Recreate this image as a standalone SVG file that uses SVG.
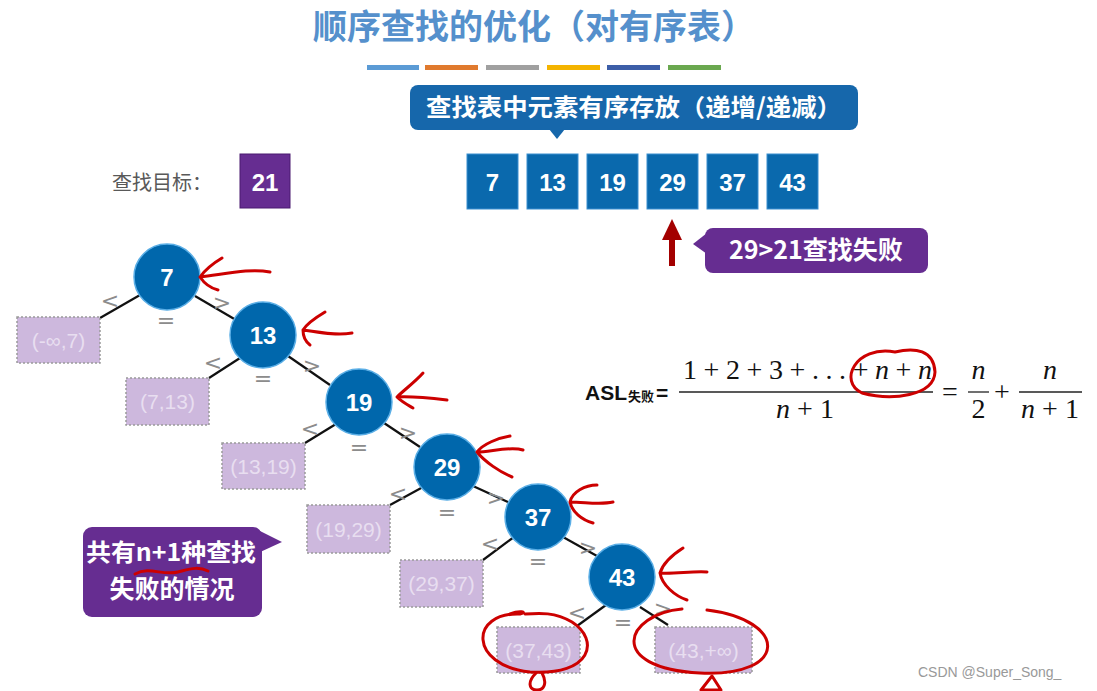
<svg xmlns="http://www.w3.org/2000/svg" width="1097" height="691" viewBox="0 0 1097 691">
<style>
.cjk{font-family:"Noto Sans CJK SC","Liberation Sans",sans-serif}
.num{font-family:"Liberation Sans","Noto Sans CJK SC",sans-serif;font-weight:bold;fill:#fff;text-anchor:middle}
.cell{fill:#0a69ad;stroke:#3a8fd0;stroke-width:1}
.node{fill:#0067ac;stroke:#5aaee6;stroke-width:1.5}
.leaf{fill:#cdb8dd;stroke:#9a9a9a;stroke-width:1.5;stroke-dasharray:2 2}
.leaft{font-family:"Liberation Sans",sans-serif;font-size:21px;fill:#e8def0;text-anchor:middle}
.edge{stroke:#111;stroke-width:2.2}
.op{font-family:"DejaVu Sans","Liberation Sans",sans-serif;font-size:22px;fill:#8c8c8c;text-anchor:middle}
.red{fill:none;stroke:#cc0000;stroke-width:3;stroke-linecap:round;stroke-linejoin:round}
.serif{font-family:"Liberation Serif","DejaVu Serif",serif;font-size:28px;fill:#111}
.it{font-style:italic}
</style>
<rect width="1097" height="691" fill="#fff"/>

<g id="title">
<text x="534" y="39" class="cjk" font-size="34" font-weight="bold" fill="#5590cc" text-anchor="middle">顺序查找的优化（对有序表）</text>
<rect x="367" y="65" width="52" height="5" fill="#5b9bd5"/>
<rect x="425" y="65" width="53" height="5" fill="#e07a2e"/>
<rect x="486" y="65" width="53" height="5" fill="#a0a0a0"/>
<rect x="547" y="65" width="53" height="5" fill="#f4b400"/>
<rect x="607" y="65" width="53" height="5" fill="#3c5ea8"/>
<rect x="668" y="65" width="53" height="5" fill="#6aa84f"/>
</g>

<g id="callout-sorted">
<rect x="410" y="85" width="448" height="45" rx="8" fill="#1667ab"/>
<polygon points="549,129 565,129 557,139" fill="#1667ab"/>
<text x="634" y="116" class="cjk" font-size="24" font-weight="bold" fill="#fff" text-anchor="middle" textLength="416" lengthAdjust="spacingAndGlyphs">查找表中元素有序存放（递增/递减）</text>
</g>

<g id="target">
<text x="112" y="190" class="cjk" font-size="20" fill="#595959">查找目标：</text>
<rect x="240" y="154" width="50" height="54" fill="#662d91" stroke="#4a1a70" stroke-width="1"/>
<text x="265" y="191" class="num" font-size="24">21</text>
</g>

<g id="array">
<rect class="cell" x="467" y="154" width="51" height="55"/><text x="492.5" y="191" class="num" font-size="24">7</text>
<rect class="cell" x="527" y="154" width="51" height="55"/><text x="552.5" y="191" class="num" font-size="24">13</text>
<rect class="cell" x="587" y="154" width="51" height="55"/><text x="612.5" y="191" class="num" font-size="24">19</text>
<rect class="cell" x="647" y="154" width="51" height="55"/><text x="672.5" y="191" class="num" font-size="24">29</text>
<rect class="cell" x="707" y="154" width="51" height="55"/><text x="732.5" y="191" class="num" font-size="24">37</text>
<rect class="cell" x="767" y="154" width="51" height="55"/><text x="792.5" y="191" class="num" font-size="24">43</text>
</g>

<g id="pointer-arrow">
<rect x="669" y="237" width="6" height="29" fill="#a30000"/>
<polygon points="672,219 682,240 662,240" fill="#a30000"/>
</g>

<g id="callout-fail">
<rect x="705" y="228" width="223" height="45" rx="8" fill="#662d91"/>
<polygon points="707,233 693,244 707,254" fill="#662d91"/>
<text x="816" y="259" class="cjk" font-size="25" font-weight="bold" fill="#fff" text-anchor="middle">29&gt;21查找失败</text>
</g>

<g id="connectors">
<line class="edge" x1="140" y1="295" x2="100" y2="318"/>
<line class="edge" x1="195" y1="296" x2="236" y2="320"/>
<line class="edge" x1="240" y1="358" x2="209" y2="378"/>
<line class="edge" x1="288" y1="356" x2="330" y2="385"/>
<line class="edge" x1="336" y1="424" x2="305" y2="443"/>
<line class="edge" x1="384" y1="423" x2="420" y2="447"/>
<line class="edge" x1="423" y1="487" x2="390" y2="505"/>
<line class="edge" x1="473" y1="486" x2="510" y2="503"/>
<line class="edge" x1="514" y1="537" x2="483" y2="560"/>
<line class="edge" x1="563" y1="537" x2="597" y2="556"/>
<line class="edge" x1="606" y1="605" x2="577" y2="626"/>
<line class="edge" x1="640" y1="607" x2="668" y2="625"/>
<text class="op" x="110" y="308">&lt;</text><text class="op" x="222" y="310">&gt;</text><text class="op" x="166" y="328">=</text>
<text class="op" x="213" y="370">&lt;</text><text class="op" x="312" y="373">&gt;</text><text class="op" x="263" y="386">=</text>
<text class="op" x="310" y="436">&lt;</text><text class="op" x="408" y="440">&gt;</text><text class="op" x="359" y="455">=</text>
<text class="op" x="398" y="501">&lt;</text><text class="op" x="496" y="505">&gt;</text><text class="op" x="447" y="520">=</text>
<text class="op" x="490" y="551">&lt;</text><text class="op" x="588" y="555">&gt;</text><text class="op" x="538" y="569">=</text>
<text class="op" x="577" y="620">&lt;</text><text class="op" x="663" y="616">&gt;</text><text class="op" x="623" y="630">=</text>
</g>

<g id="node-7"><circle class="node" cx="167" cy="277" r="33"/><text x="167" y="286" class="num" font-size="24">7</text></g>
<g id="node-13"><circle class="node" cx="263" cy="335" r="33"/><text x="263" y="344" class="num" font-size="24">13</text></g>
<g id="node-19"><circle class="node" cx="359" cy="402" r="33"/><text x="359" y="411" class="num" font-size="24">19</text></g>
<g id="node-29"><circle class="node" cx="447" cy="467" r="33"/><text x="447" y="476" class="num" font-size="24">29</text></g>
<g id="node-37"><circle class="node" cx="538" cy="517" r="33"/><text x="538" y="526" class="num" font-size="24">37</text></g>
<g id="node-43"><circle class="node" cx="622" cy="577" r="33"/><text x="622" y="586" class="num" font-size="24">43</text></g>

<g id="leaf-1"><rect class="leaf" x="17" y="317" width="83" height="46"/><text class="leaft" x="58.5" y="348">(-∞,7)</text></g>
<g id="leaf-2"><rect class="leaf" x="126" y="378" width="83" height="47"/><text class="leaft" x="167.5" y="409">(7,13)</text></g>
<g id="leaf-3"><rect class="leaf" x="222" y="443" width="83" height="46"/><text class="leaft" x="263.5" y="474">(13,19)</text></g>
<g id="leaf-4"><rect class="leaf" x="307" y="505" width="83" height="48"/><text class="leaft" x="348.5" y="537">(19,29)</text></g>
<g id="leaf-5"><rect class="leaf" x="400" y="560" width="83" height="47"/><text class="leaft" x="441.5" y="591">(29,37)</text></g>
<g id="leaf-6"><rect class="leaf" x="497" y="627" width="83" height="46"/><text class="leaft" x="538.5" y="658">(37,43)</text></g>
<g id="leaf-7"><rect class="leaf" x="655" y="627" width="97" height="46"/><text class="leaft" x="703.5" y="658">(43,+∞)</text></g>

<g id="callout-count">
<rect x="83" y="527" width="179" height="90" rx="9" fill="#662d91"/>
<polygon points="258,530 282,542 258,553" fill="#662d91"/>
<text x="171" y="561" class="cjk" font-size="24" font-weight="bold" fill="#fff" text-anchor="middle" textLength="170" lengthAdjust="spacingAndGlyphs">共有n+1种查找</text>
<text x="172" y="598" class="cjk" font-size="25" font-weight="bold" fill="#fff" text-anchor="middle">失败的情况</text>
</g>

<g id="formula">
<text x="585" y="400" font-family="Liberation Sans,sans-serif" font-size="21" font-weight="bold" fill="#111">ASL</text>
<text x="628" y="401" class="cjk" font-size="13" font-weight="bold" fill="#111">失败</text>
<text x="656" y="400" font-family="Liberation Sans,sans-serif" font-size="21" font-weight="bold" fill="#111">=</text>
<line x1="679" y1="392" x2="933" y2="392" stroke="#222" stroke-width="1.3"/>
<text x="683" y="379" class="serif" textLength="249" lengthAdjust="spacing">1 + 2 + 3 + . . . + <tspan class="it">n</tspan> + <tspan class="it">n</tspan></text>
<text x="805" y="418" class="serif" text-anchor="middle"><tspan class="it">n</tspan> + 1</text>
<text x="950" y="401" class="serif" text-anchor="middle">=</text>
<line x1="968" y1="392" x2="989" y2="392" stroke="#222" stroke-width="1.3"/>
<text x="978.5" y="379" class="serif it" text-anchor="middle">n</text>
<text x="978.5" y="418" class="serif" text-anchor="middle">2</text>
<text x="1002" y="401" class="serif" text-anchor="middle">+</text>
<line x1="1019" y1="392" x2="1082" y2="392" stroke="#222" stroke-width="1.3"/>
<text x="1050" y="379" class="serif it" text-anchor="middle">n</text>
<text x="1050" y="418" class="serif" text-anchor="middle"><tspan class="it">n</tspan> + 1</text>
</g>

<g id="annotations">
<path class="red" d="M270 272 C250 268 225 274 200 277 M222 258 C212 264 205 270 200 277 C204 283 210 288 218 290"/>
<path class="red" d="M352 333 C335 336 318 332 303 330 M325 312 C315 318 306 325 303 330 C303 337 306 342 310 345"/>
<path class="red" d="M447 400 C430 398 412 396 397 397 M423 373 C415 382 404 390 397 397 C402 402 408 405 413 408"/>
<path class="red" d="M523 450 C510 446 490 452 477 452 M510 436 C498 438 483 444 477 452 C485 462 500 472 512 477"/>
<path class="red" d="M613 502 C600 505 585 502 570 502 M597 485 C585 485 572 492 570 502 C572 512 582 520 593 523"/>
<path class="red" d="M707 572 C692 571 675 574 660 573 M683 548 C672 555 663 563 660 573 C662 585 675 596 687 600"/>
<path class="red" d="M895 352 C855 345 838 382 862 393 C892 401 934 396 935 372 C934 350 915 347 895 352"/>
<path class="red" stroke-width="2" d="M135 574 C150 566 162 576 178 572 C190 569 198 566 208 571"/>
<path class="red" d="M510 614 C520 610 528 612 520 614 C470 612 468 665 530 672 C592 676 600 640 572 622 C555 612 540 613 525 614"/>
<path class="red" d="M536 673 C527 682 529 690 537 690 C545 690 547 682 542 673"/>
<path class="red" d="M682 609 C625 614 605 668 700 673 C790 677 788 620 707 610"/>
<path class="red" d="M712 676 L701 690 L721 690 Z"/>
</g>

<text x="918" y="677" font-family="Liberation Sans,sans-serif" font-size="14" fill="#999">CSDN @Super_Song_</text>
</svg>
